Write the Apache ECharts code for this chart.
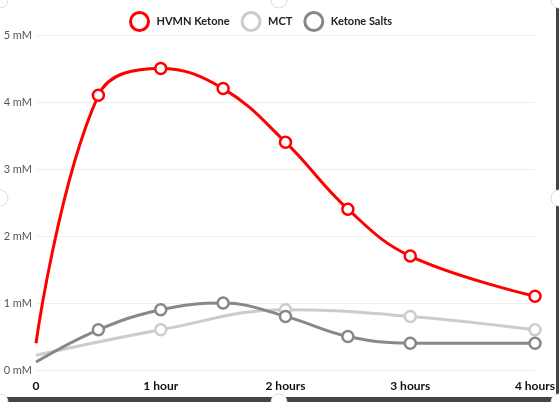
<!DOCTYPE html>
<html>
<head>
<meta charset="utf-8">
<script src="https://cdn.jsdelivr.net/npm/echarts@6/dist/echarts.min.js"></script>
<style>
  html, body { margin: 0; padding: 0; background: #fff; }
  #main { width: 559px; height: 402px; }
</style>
</head>
<body>
<div id="main"></div>
<script>
// hours after intake
var hvmnHours = [0, 0.5, 1, 1.5, 2, 2.5, 3, 4];
var hvmnValues = [0.4, 4.1, 4.5, 4.2, 3.4, 2.4, 1.7, 1.1];

var mctHours = [0, 1, 2, 3, 4];
var mctValues = [0.22, 0.6, 0.9, 0.8, 0.6];

var saltHours = [0, 0.5, 1, 1.5, 2, 2.5, 3, 4];
var saltValues = [0.12, 0.6, 0.9, 1.0, 0.8, 0.5, 0.4, 0.4];

var xTickLabels = ['0', '1 hour', '2 hours', '3 hours', '4 hours'];
var yTickLabels = ['0 mM', '1 mM', '2 mM', '3 mM', '4 mM', '5 mM'];

function pairs(xs, ys) {
    return xs.map(function (x, i) {
        var item = { value: [x, ys[i]] };
        if (i === 0) item.symbol = 'none';   // no marker at time 0
        return item;
    });
}

function lineSeries(name, color, xs, ys) {
    return {
        name: name,
        type: 'line',
        smooth: 0.4,
        data: pairs(xs, ys),
        symbol: 'circle',
        symbolSize: 11,
        showAllSymbol: true,
        lineStyle: { color: color, width: 3 },
        itemStyle: { color: '#fff', borderColor: color, borderWidth: 2.5 }
    };
}

var myChart = echarts.init(document.getElementById('main'));

myChart.setOption({
    animation: false,
    legend: {
        top: 6,
        left: 124,
        itemGap: 11,
        itemWidth: 18,
        itemHeight: 18,
        icon: 'circle',
        textStyle: { fontFamily: 'Lato', fontWeight: 'bold', fontSize: 11, color: '#222', padding: [0, 0, 0, 3] },
        data: [
            { name: 'HVMN Ketone', itemStyle: { color: '#fff', borderColor: '#ff0000', borderWidth: 3 } },
            { name: 'MCT', itemStyle: { color: '#fff', borderColor: '#cccccc', borderWidth: 3 } },
            { name: 'Ketone Salts', itemStyle: { color: '#fff', borderColor: '#888888', borderWidth: 3 } }
        ]
    },
    grid: { left: 36, right: 24, top: 35, bottom: 32 },
    xAxis: {
        type: 'value',
        min: 0,
        max: 4,
        interval: 1,
        axisLine: { show: false },
        axisTick: { show: false },
        splitLine: { show: false },
        axisLabel: {
            margin: 10,
            fontFamily: 'Lato',
            fontWeight: 'bold',
            fontSize: 12,
            color: '#111',
            formatter: function (v) { return xTickLabels[Math.round(v)]; }
        }
    },
    yAxis: {
        type: 'value',
        min: 0,
        max: 5,
        interval: 1,
        axisLine: { show: false },
        axisTick: { show: false },
        splitLine: { lineStyle: { color: '#eeeeee', width: 1 } },
        axisLabel: {
            margin: 4,
            fontFamily: 'Lato',
            fontSize: 11,
            color: '#555',
            formatter: function (v) { return yTickLabels[Math.round(v)]; }
        }
    },
    series: [
        lineSeries('HVMN Ketone', '#ff0000', hvmnHours, hvmnValues),
        lineSeries('MCT', '#cccccc', mctHours, mctValues),
        lineSeries('Ketone Salts', '#888888', saltHours, saltValues)
    ],
    graphic: [
        { type: 'rect', shape: { x: 0, y: 397, width: 559, height: 5 }, style: { fill: '#444' }, z: 10 },
        { type: 'rect', shape: { x: 556, y: 0, width: 3, height: 402 }, style: { fill: '#444' }, z: 10 },
        { type: 'circle', shape: { cx: 0, cy: 0, r: 8 }, style: { fill: '#fff', stroke: '#ddd', lineWidth: 1 }, z: 11 },
        { type: 'circle', shape: { cx: 279, cy: 0, r: 8 }, style: { fill: '#fff', stroke: '#ddd', lineWidth: 1 }, z: 11 },
        { type: 'circle', shape: { cx: 559, cy: 0, r: 8 }, style: { fill: '#fff', stroke: '#ddd', lineWidth: 1 }, z: 11 },
        { type: 'circle', shape: { cx: 0, cy: 198, r: 8 }, style: { fill: '#fff', stroke: '#ddd', lineWidth: 1 }, z: 11 },
        { type: 'circle', shape: { cx: 559, cy: 198, r: 8 }, style: { fill: '#fff', stroke: '#ddd', lineWidth: 1 }, z: 11 },
        { type: 'circle', shape: { cx: 0, cy: 402, r: 8 }, style: { fill: '#fff', stroke: '#ddd', lineWidth: 1 }, z: 11 },
        { type: 'circle', shape: { cx: 279, cy: 402, r: 8 }, style: { fill: '#fff', stroke: '#ddd', lineWidth: 1 }, z: 11 },
        { type: 'circle', shape: { cx: 559, cy: 402, r: 8 }, style: { fill: '#fff', stroke: '#ddd', lineWidth: 1 }, z: 11 }
    ]
});
</script>
</body>
</html>
